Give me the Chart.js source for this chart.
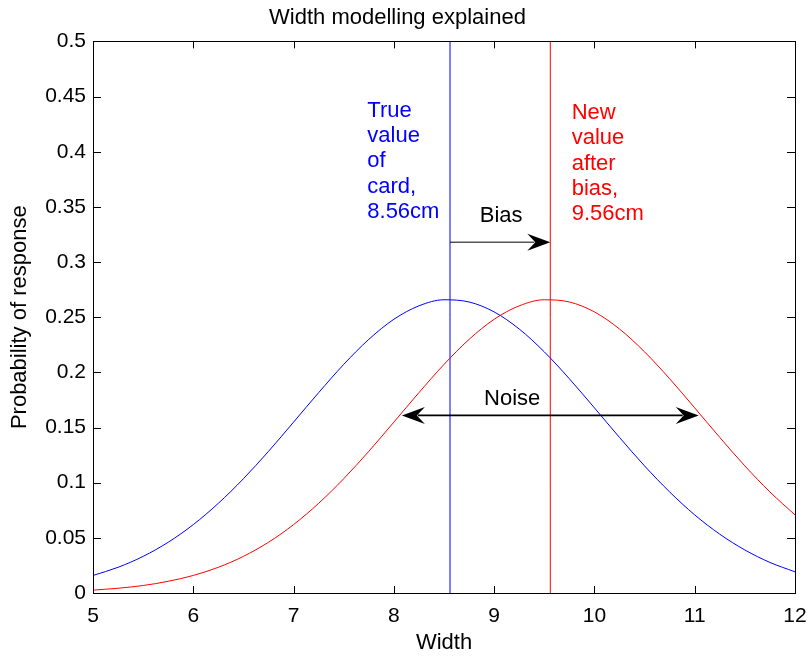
<!DOCTYPE html>
<html>
<head>
<meta charset="utf-8">
<script src="https://cdn.jsdelivr.net/npm/chart.js@4"></script>
<style>
	html, body { margin: 0; padding: 0; background: #fff; }
	#wrap { width: 809px; height: 657px; }
</style>
</head>
<body>
<div id="wrap"><canvas id="chart"></canvas></div>
<script>
// values
const widths = [5, 5.25, 5.5, 5.75, 6, 6.25, 6.5, 6.75, 7, 7.25, 7.5, 7.75, 8, 8.25, 8.5, 8.75, 9, 9.25, 9.5, 9.75, 10, 10.25, 10.5, 10.75, 11, 11.25, 11.5, 11.75, 12]
const trueCurve = [0.0159, 0.0233, 0.0332, 0.0460, 0.0620, 0.0813, 0.1036, 0.1284, 0.1549, 0.1816, 0.2072, 0.2299, 0.2481, 0.2603, 0.2658, 0.2638, 0.2548, 0.2393, 0.2186, 0.1942, 0.1678, 0.1410, 0.1152, 0.0916, 0.0708, 0.0533, 0.0390, 0.0277, 0.0192]
const biasedCurve = [0.0026, 0.0043, 0.0068, 0.0106, 0.0159, 0.0233, 0.0332, 0.0460, 0.0620, 0.0813, 0.1036, 0.1284, 0.1549, 0.1816, 0.2072, 0.2299, 0.2481, 0.2603, 0.2658, 0.2638, 0.2548, 0.2393, 0.2186, 0.1942, 0.1678, 0.1410, 0.1152, 0.0916, 0.0708]
const trueValue = 8.56
const biasedValue = 9.56
const xTicks = [5, 6, 7, 8, 9, 10, 11, 12]
const yTicks = [0, 0.05, 0.1, 0.15, 0.2, 0.25, 0.3, 0.35, 0.4, 0.45, 0.5]

const trueNote = ["True", "value", "of", "card,", "8.56cm"]
const biasedNote = ["New", "value", "after", "bias,", "9.56cm"]
const biasArrow = {from: [8.56, 0.318], to: [9.56, 0.318]}
const noiseArrow = {from: [8.08, 0.161], to: [11.04, 0.161]}

const FONT = "'Liberation Sans', Arial, sans-serif"
const BLUE = "#0000ff"
const RED = "#ff0000"

Chart.defaults.color = "#000"
Chart.defaults.font.family = FONT

const points = (ys) => widths.map((x, i) => ({x: x, y: ys[i]}))
const marker = (x) => [{x: x, y: yTicks[0]}, {x: x, y: yTicks[yTicks.length - 1]}]

const drawHead = (ctx, x, y, dir) => {
	ctx.beginPath()
	ctx.moveTo(x, y)
	ctx.lineTo(x - dir * 23, y - 8.5)
	ctx.lineTo(x - dir * 15, y)
	ctx.lineTo(x - dir * 23, y + 8.5)
	ctx.closePath()
	ctx.fill()
}

const notesPlugin = {
	id: "notes",
	afterDatasetsDraw(chart) {
		const ctx = chart.ctx
		const xs = chart.scales.x
		const ys = chart.scales.y
		const area = chart.chartArea
		ctx.save()

		// box and inward ticks
		ctx.strokeStyle = "#000"
		ctx.lineWidth = 1
		ctx.strokeRect(Math.round(area.left) + 0.5, Math.round(area.top) + 0.5,
			Math.round(area.right - area.left), Math.round(area.bottom - area.top))
		ctx.beginPath()
		xTicks.forEach((v) => {
			const px = Math.round(xs.getPixelForValue(v)) + 0.5
			ctx.moveTo(px, area.bottom); ctx.lineTo(px, area.bottom - 7)
			ctx.moveTo(px, area.top); ctx.lineTo(px, area.top + 7)
		})
		yTicks.forEach((v) => {
			const py = Math.round(ys.getPixelForValue(v)) + 0.5
			ctx.moveTo(area.left, py); ctx.lineTo(area.left + 8, py)
			ctx.moveTo(area.right, py); ctx.lineTo(area.right - 8, py)
		})
		ctx.stroke()

		// text notes
		ctx.font = "22px " + FONT
		ctx.textBaseline = "middle"
		ctx.textAlign = "left"
		ctx.fillStyle = BLUE
		trueNote.forEach((t, i) => ctx.fillText(t, xs.getPixelForValue(7.735), ys.getPixelForValue(0.437) + i * 25.2))
		ctx.fillStyle = RED
		biasedNote.forEach((t, i) => ctx.fillText(t, xs.getPixelForValue(9.773), ys.getPixelForValue(0.4352) + i * 25.3))
		ctx.fillStyle = "#000"
		ctx.textAlign = "center"
		ctx.fillText("Bias", xs.getPixelForValue(9.07), ys.getPixelForValue(0.3415))
		ctx.fillText("Noise", xs.getPixelForValue(9.18), ys.getPixelForValue(0.176))

		// arrows
		const bx0 = xs.getPixelForValue(biasArrow.from[0])
		const bx1 = xs.getPixelForValue(biasArrow.to[0])
		const by = ys.getPixelForValue(biasArrow.from[1])
		ctx.lineWidth = 1
		ctx.beginPath(); ctx.moveTo(bx0, by); ctx.lineTo(bx1 - 16, by); ctx.stroke()
		drawHead(ctx, bx1, by, 1)

		const nx0 = xs.getPixelForValue(noiseArrow.from[0])
		const nx1 = xs.getPixelForValue(noiseArrow.to[0])
		const ny = ys.getPixelForValue(noiseArrow.from[1])
		ctx.lineWidth = 1.6
		ctx.beginPath(); ctx.moveTo(nx0 + 16, ny); ctx.lineTo(nx1 - 16, ny); ctx.stroke()
		drawHead(ctx, nx0, ny, -1)
		drawHead(ctx, nx1, ny, 1)

		ctx.restore()
	}
}

new Chart(document.getElementById("chart"), {
	type: "line",
	data: {
		datasets: [
			{data: points(trueCurve), borderColor: BLUE, borderWidth: 1, cubicInterpolationMode: "monotone"},
			{data: points(biasedCurve), borderColor: RED, borderWidth: 1, cubicInterpolationMode: "monotone"},
			{data: marker(trueValue), borderColor: BLUE, borderWidth: 1},
			{data: marker(biasedValue), borderColor: RED, borderWidth: 1}
		]
	},
	options: {
		responsive: true,
		maintainAspectRatio: false,
		animation: false,
		elements: {point: {radius: 0}},
		layout: {padding: {left: 0, right: 14, top: 0, bottom: 0}},
		plugins: {
			legend: {display: false},
			tooltip: {enabled: false},
			title: {
				display: true,
				text: "Width modelling explained",
				color: "#000",
				font: {size: 22, weight: "normal", lineHeight: 1.2},
				padding: {top: 5, bottom: 10}
			}
		},
		scales: {
			x: {
				type: "linear",
				min: xTicks[0],
				max: xTicks[xTicks.length - 1],
				grid: {display: false, drawTicks: false},
				border: {display: false},
				afterBuildTicks: (s) => { s.ticks = xTicks.map((v) => ({value: v})) },
				afterFit: (s) => { s.height = 64; s.paddingLeft = 0; s.paddingRight = 0 },
				ticks: {font: {size: 21}, padding: 11, maxRotation: 0, autoSkip: false, callback: (v) => String(v)},
				title: {display: true, text: "Width", font: {size: 22}, padding: {top: 0, bottom: 1}}
			},
			y: {
				min: yTicks[0],
				max: yTicks[yTicks.length - 1],
				grid: {display: false, drawTicks: false},
				border: {display: false},
				afterBuildTicks: (s) => { s.ticks = yTicks.map((v) => ({value: v})) },
				afterFit: (s) => { s.width = 93; s.paddingTop = 0; s.paddingBottom = 0 },
				ticks: {font: {size: 21}, padding: 7, autoSkip: false, callback: (v) => String(v)},
				title: {display: true, text: "Probability of response", font: {size: 22}, padding: {top: 7, bottom: 0}}
			}
		}
	},
	plugins: [notesPlugin]
})
</script>
</body>
</html>
